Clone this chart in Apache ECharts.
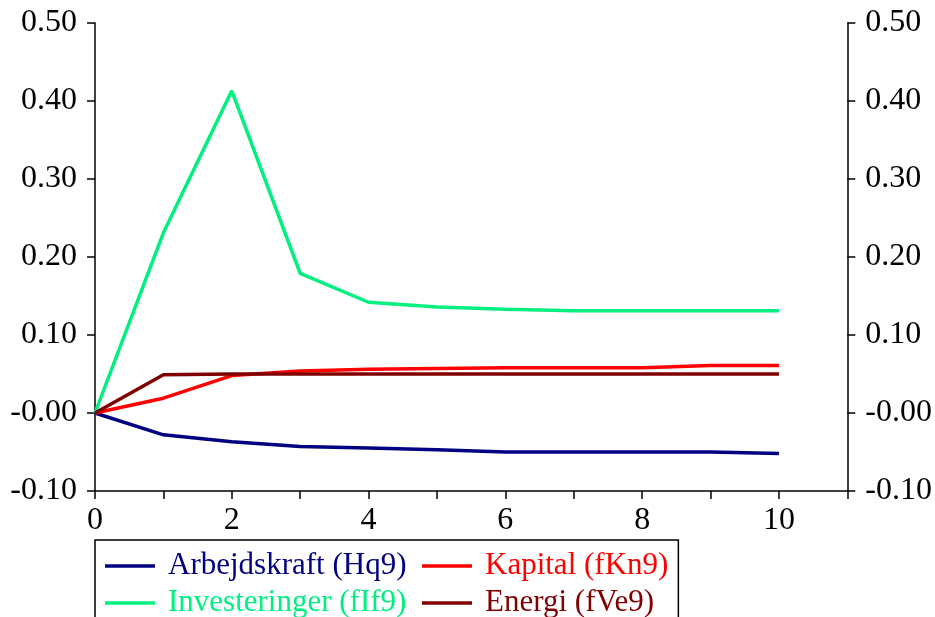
<!DOCTYPE html>
<html>
<head>
<meta charset="utf-8">
<script src="https://cdn.jsdelivr.net/npm/echarts@6/dist/echarts.min.js"></script>
<style>html,body{margin:0;padding:0;background:#fff}#c{width:935px;height:617px}</style>
</head>
<body>
<div id="c"></div>
<script>
var periods = [0,1,2,3,4,5,6,7,8,9,10];
var arbejdskraft = [0,-0.028,-0.037,-0.043,-0.045,-0.047,-0.050,-0.050,-0.050,-0.050,-0.052];
var kapital = [0,0.019,0.048,0.054,0.056,0.057,0.058,0.058,0.058,0.061,0.061];
var investeringer = [0,0.231,0.413,0.179,0.142,0.136,0.133,0.131,0.131,0.131,0.131];
var energi = [0,0.049,0.050,0.050,0.050,0.050,0.050,0.050,0.050,0.050,0.050];
var seriesNames = ['Arbejdskraft (Hq9)','Kapital (fKn9)','Investeringer (fIf9)','Energi (fVe9)'];
var seriesColors = ['#000080','#ff0000','#00f080','#800000'];
var yTicks = [-0.1,0,0.1,0.2,0.3,0.4,0.5];

function pairs(v){ return periods.map(function(p,i){ return [p, v[i]]; }); }
var allData = [arbejdskraft, kapital, investeringer, energi];

var font = 'Liberation Serif, Times New Roman, serif';
function yFmt(v){ return Math.abs(v) < 1e-9 ? '-0.00' : v.toFixed(2); }
var yAxisBase = {
  type:'value', min:-0.1, max:0.5, interval:0.1,
  splitLine:{show:false},
  axisLine:{show:true, lineStyle:{color:'#000', width:1.5}},
  axisTick:{show:true, inside:false, length:8, lineStyle:{color:'#000', width:1.5}},
  axisLabel:{color:'#000', fontFamily:font, fontSize:32, margin:18, formatter:yFmt}
};
var chart = echarts.init(document.getElementById('c'));
chart.setOption({
  animation:false,
  backgroundColor:'#fff',
  grid:{left:95, right:87, top:23, bottom:126},
  legend:{
    left:95, top:540, orient:'horizontal', width:585,
    padding:[10,10,10,10], itemGap:5,
    borderColor:'#000', borderWidth:1.5,
    icon:'rect', itemWidth:50, itemHeight:3.5,
    textStyle:{fontFamily:font, fontSize:31, lineHeight:32, padding:[0,0,0,8]},
    data: seriesNames.map(function(n,i){
      return {name:n, textStyle:{color:seriesColors[i], width:(i%2===0?249:182)}};
    })
  },
  xAxis:{
    type:'value', min:0, max:11, interval:1,
    splitLine:{show:false},
    axisLine:{show:true, onZero:false, lineStyle:{color:'#000', width:1.5}},
    axisTick:{show:true, inside:false, length:8, lineStyle:{color:'#000', width:1.5}},
    axisLabel:{color:'#000', fontFamily:font, fontSize:32, margin:14,
      formatter:function(v){ return (v % 2 === 0 && v <= 10) ? String(v) : ''; }}
  },
  yAxis:[
    Object.assign({}, yAxisBase, {position:'left'}),
    Object.assign({}, yAxisBase, {position:'right'})
  ],
  series: seriesNames.map(function(n,i){
    return {name:n, type:'line', data:pairs(allData[i]), showSymbol:false, symbol:'none',
      lineStyle:{color:seriesColors[i], width:3.5}, itemStyle:{color:seriesColors[i]}};
  })
});
</script>
</body>
</html>
